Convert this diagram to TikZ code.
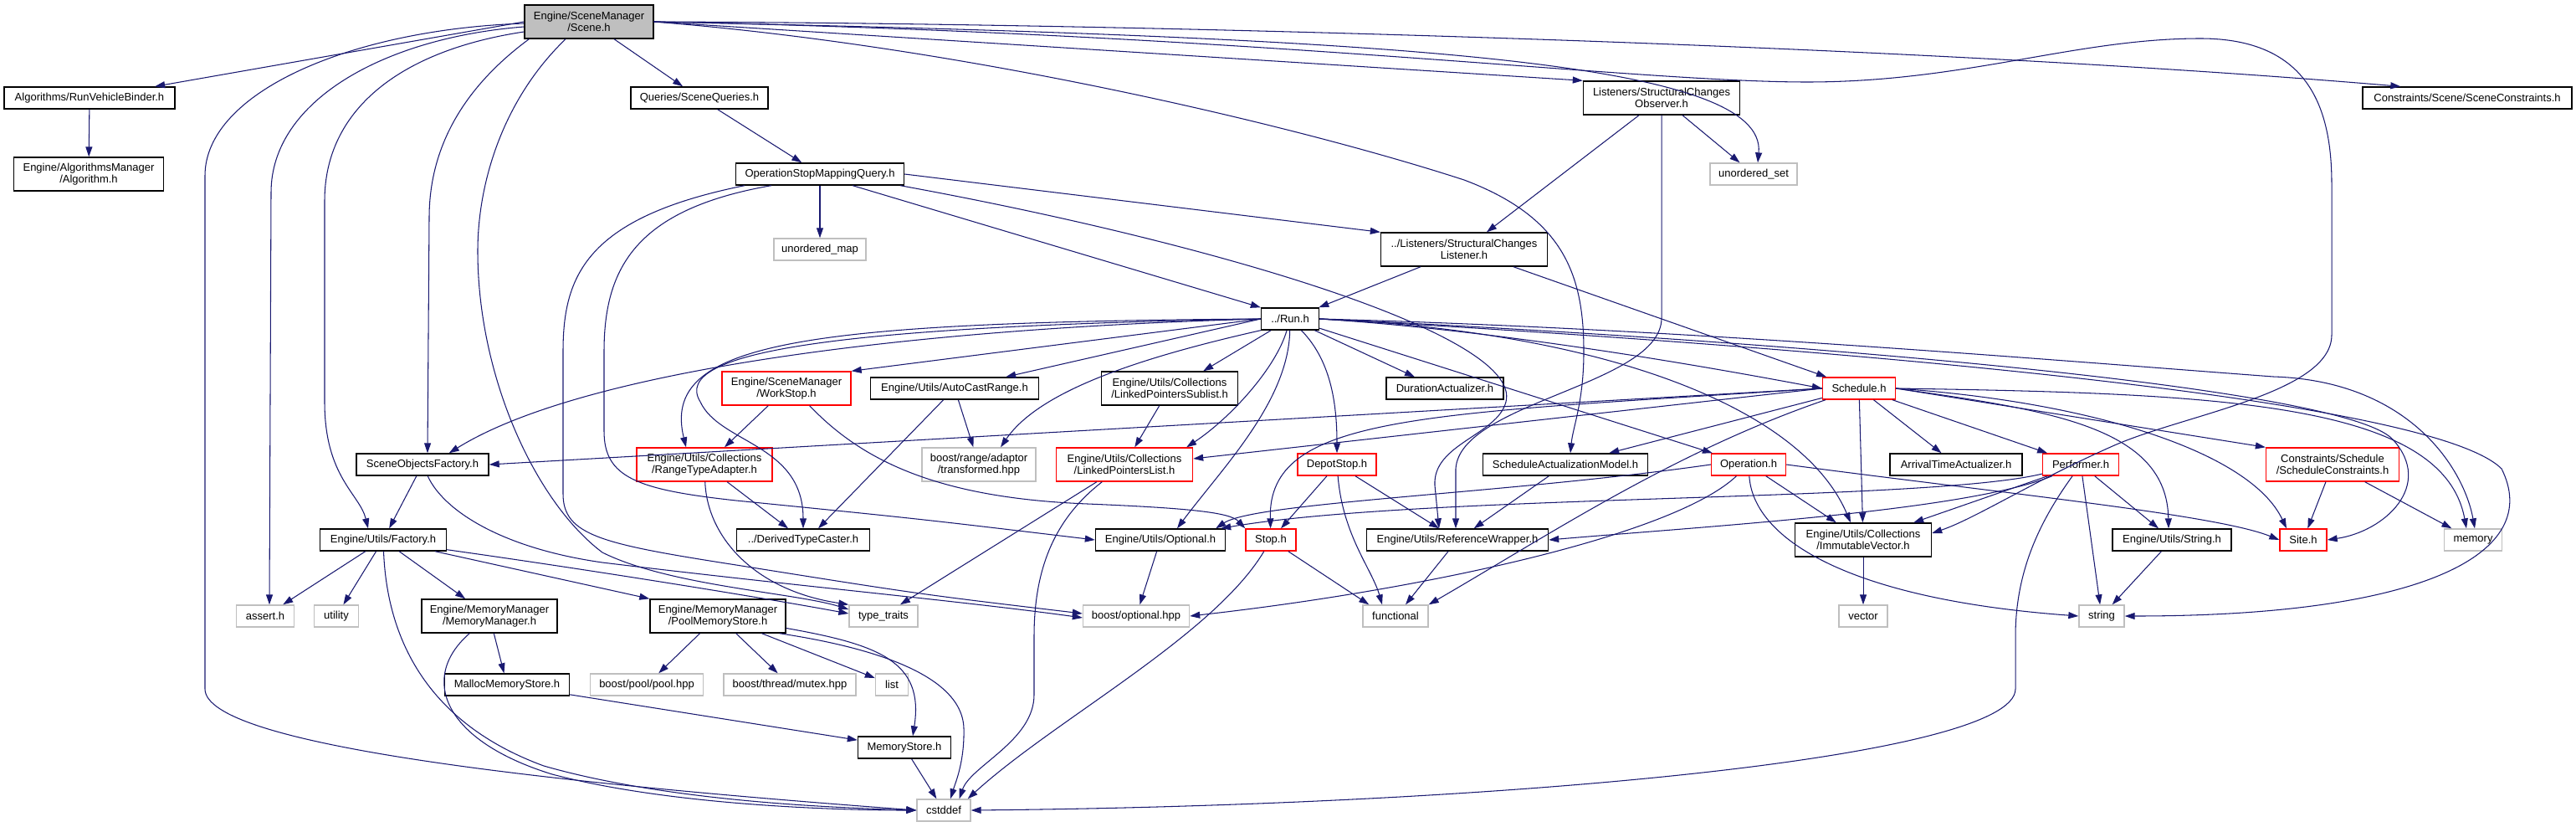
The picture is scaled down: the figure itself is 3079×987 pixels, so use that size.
\documentclass[tikz,border=0pt]{standalone}
\usepackage{fontspec}
\setmainfont{Liberation Sans}
\usetikzlibrary{arrows.meta,calc}
\definecolor{bleuNuit}{RGB}{25,25,112}
\definecolor{grisBord}{RGB}{191,191,191}
\definecolor{grisRacine}{RGB}{191,191,191}

\begin{document}
\begin{tikzpicture}[x=0.02cm,y=-0.02cm,font=\fontsize{7.4}{8}\selectfont,
  f/.style={rectangle,draw=black,fill=white,line width=0.8pt,inner sep=0pt,
            minimum height=0.52cm,align=center},
  f2/.style={f,minimum height=0.8cm},
  sys/.style={f,draw=grisBord},
  trunc/.style={draw=red},
  wd/.style={minimum width=#1cm},
  a/.style={-{Triangle[length=0.24cm,width=0.16cm]},bleuNuit,line width=0.6pt}]
  \useasboundingbox (0,0) rectangle (3079,987);

  % rows of headers
  \node[f2,wd=3.08,fill=grisRacine] (scene) at (704,26) {Engine/SceneManager\\/Scene.h};
  \node[f,wd=4.08] (rvb) at (107,117) {Algorithms/RunVehicleBinder.h};
  \node[f2,wd=3.58] (algorithm) at (106,208) {Engine/AlgorithmsManager\\/Algorithm.h};
  \node[f,wd=3.28] (squeries) at (836,117) {Queries/SceneQueries.h};
  \node[f,wd=4.02] (osmq) at (980,208) {OperationStopMappingQuery.h};
  \node[sys,wd=2.2] (umap) at (980,298) {unordered\_map};
  \node[f2,wd=3.74] (observer) at (1986,117) {Listeners/StructuralChanges\\Observer.h};
  \node[sys,wd=2.08] (uset) at (2096,208) {unordered\_set};
  \node[f,wd=5.0] (sconstr) at (2949,117) {Constraints/Scene/SceneConstraints.h};
  \node[f2,wd=3.98] (listener) at (1750,298) {../Listeners/StructuralChanges\\Listener.h};
  \node[f,wd=1.38] (run) at (1542,381) {../Run.h};

  \node[f2,wd=3.08,trunc] (workstop) at (940,464) {Engine/SceneManager\\/WorkStop.h};
  \node[f,wd=4.02] (autocast) at (1141,464) {Engine/Utils/AutoCastRange.h};
  \node[f2,wd=3.26] (lpsublist) at (1398,464) {Engine/Utils/Collections\\/LinkedPointersSublist.h};
  \node[f,wd=2.8] (duration) at (1727,464) {DurationActualizer.h};
  \node[f,wd=1.74,trunc] (schedule) at (2222,464) {Schedule.h};

  \node[f,wd=3.16] (sofactory) at (505,555) {SceneObjectsFactory.h};
  \node[f2,wd=3.24,trunc] (rta) at (842,555) {Engine/Utils/Collections\\/RangeTypeAdapter.h};
  \node[f2,wd=2.72,draw=grisBord] (transformed) at (1170,555) {boost/range/adaptor\\/transformed.hpp};
  \node[f2,wd=3.26,trunc] (lplist) at (1344,555) {Engine/Utils/Collections\\/LinkedPointersList.h};
  \node[f,wd=1.88,trunc] (depotstop) at (1598,555) {DepotStop.h};
  \node[f,wd=3.94] (samodel) at (1871,555) {ScheduleActualizationModel.h};
  \node[f,wd=1.78,trunc] (operation) at (2090,555) {Operation.h};
  \node[f,wd=3.16] (arrival) at (2338,555) {ArrivalTimeActualizer.h};
  \node[f,wd=1.82,trunc] (performer) at (2487,555) {Performer.h};
  \node[f2,wd=3.18,trunc] (schedconstr) at (2788,555) {Constraints/Schedule\\/ScheduleConstraints.h};

  \node[f,wd=3.02] (factory) at (458,645) {Engine/Utils/Factory.h};
  \node[f,wd=3.18] (dtc) at (960,645) {../DerivedTypeCaster.h};
  \node[f,wd=3.1] (optional) at (1387,645) {Engine/Utils/Optional.h};
  \node[f,wd=1.2,trunc] (stop) at (1519,645) {Stop.h};
  \node[f,wd=4.34] (refwrap) at (1742,645) {Engine/Utils/ReferenceWrapper.h};
  \node[f2,wd=3.26] (immvec) at (2227,645) {Engine/Utils/Collections\\/ImmutableVector.h};
  \node[f,wd=2.84] (stringh) at (2596,645) {Engine/Utils/String.h};
  \node[f,wd=1.12,trunc] (site) at (2753,645) {Site.h};
  \node[sys,wd=1.38] (memory) at (2956,645) {memory};

  \node[sys,wd=1.38] (assert) at (317,736) {assert.h};
  \node[sys,wd=1.06] (utility) at (402,736) {utility};
  \node[f2,wd=3.24] (memmgr) at (585,736) {Engine/MemoryManager\\/MemoryManager.h};
  \node[f2,wd=3.24] (poolmem) at (858,736) {Engine/MemoryManager\\/PoolMemoryStore.h};
  \node[sys,wd=1.64] (typetraits) at (1056,736) {type\_traits};
  \node[sys,wd=2.54] (boostopt) at (1358,736) {boost/optional.hpp};
  \node[sys,wd=1.56] (functional) at (1668,736) {functional};
  \node[sys,wd=1.16] (vector) at (2227,736) {vector};
  \node[sys,wd=1.08] (string) at (2512,736) {string};
  \node[f,wd=2.98] (malloc) at (606,818) {MallocMemoryStore.h};
  \node[sys,wd=2.7] (boostpool) at (773,818) {boost/pool/pool.hpp};
  \node[sys,wd=3.16] (mutex) at (944,818) {boost/thread/mutex.hpp};
  \node[sys,wd=0.78] (list) at (1066,818) {list};
  \node[f,wd=2.22] (memstore) at (1081,893) {MemoryStore.h};
  \node[sys,wd=1.28] (cstddef) at (1128,968) {cstddef};

  % Scene.h
  \draw[a] (scene.west) -- (rvb);
  \draw[a] (scene) -- (squeries);
  \draw[a] (scene.east) -- (observer.north west);
  \draw[a] (scene.east) .. controls (1400,28) and (2300,55) .. ($(sconstr.north west)+(46,0)$);
  \draw[a] (scene.east) .. controls (1700,45) and (2112,75) .. ($(uset.north)+(5,0)$);
  \draw[a] (scene.east) .. controls (1500,40) and (1950,98) .. (2160,98)
     .. controls (2350,98) and (2480,46) .. (2630,46) .. controls (2760,46) and (2787,130) .. (2787,220)
     -- (2787,400) .. controls (2787,470) and (2610,495) .. (2525,533)
     .. controls (2430,575) and (2360,620) .. ($(immvec.east)+(0,-8)$);
  \draw[a] (scene.east) .. controls (1150,55) and (1550,150) .. (1750,215)
     .. controls (1870,260) and (1893,330) .. (1893,420) .. controls (1893,480) and (1880,510) .. ($(samodel.north)+(6,0)$);
  \draw[a] ($(scene.west)+(0,2)$) .. controls (420,35) and (245,110) .. (245,210) -- (245,823)
     .. controls (245,890) and (650,935) .. (cstddef.west);
  \draw[a] ($(scene.west)+(0,6)$) .. controls (460,45) and (324,120) .. (324,230) -- ($(assert.north)+(5,0)$);
  \draw[a] ($(scene.west)+(0,12)$) .. controls (480,60) and (388,130) .. (388,240) -- (388,480)
     .. controls (388,570) and (430,590) .. ($(factory.north)+(-18,0)$);
  \draw[a] ($(scene.south west)+(6,0)$) .. controls (560,100) and (513,170) .. (513,260) -- ($(sofactory.north)+(6,0)$);
  \draw[a] ($(scene.south)+(-28,0)$) .. controls (600,120) and (571,220) .. (571,300)
     .. controls (571,450) and (640,600) .. (720,660) .. controls (800,700) and (950,708) .. ($(typetraits.west)+(0,-8)$);

  \draw[a] (rvb) -- (algorithm);
  \draw[a] (squeries) -- (osmq);

  % OperationStopMappingQuery.h
  \draw[a] (osmq) -- (umap);
  \draw[a] (osmq.east) -- (listener.north west);
  \draw[a] ($(osmq.south east)+(-62,0)$) -- (run.north west);
  \draw[a] ($(osmq.south east)+(-5,0)$) .. controls (1450,290) and (1820,400) .. (1800,480)
     .. controls (1790,520) and (1712,530) .. (1715,580) -- ($(refwrap.north)+(-22,0)$);
  \draw[a] ($(osmq.south west)+(43,0)$) .. controls (760,250) and (722,320) .. (722,420) -- (722,515)
     .. controls (722,570) and (760,585) .. (880,598) .. controls (1100,620) .. (optional.west);
  \draw[a] ($(osmq.south west)+(11,0)$) .. controls (700,260) and (673,330) .. (673,420) -- (673,590)
     .. controls (673,640) and (720,650) .. (880,675) .. controls (1100,710) .. ($(boostopt.west)+(0,-3)$);

  % listeners
  \draw[a] (observer) -- (listener);
  \draw[a] (observer) -- (uset);
  \draw[a] (observer) -- (1986,380) .. controls (1986,460) and (1745,480) .. (1740,560) -- ($(refwrap.north)+(-2,0)$);
  \draw[a] (listener) -- (run);
  \draw[a] (listener) -- (schedule);

  % ../Run.h
  \draw[a] (run.west) -- (workstop.north east);
  \draw[a] (run.west) -- ($(autocast.north east)+(-40,0)$);
  \draw[a] (run) -- ($(lpsublist.north east)+(-42,0)$);
  \draw[a] (run) -- ($(duration.north)+(-36,0)$);
  \draw[a] (run.south west) .. controls (1350,430) and (1240,470) .. ($(transformed.north)+(26,0)$);
  \draw[a] (run) .. controls (1525,440) and (1470,500) .. ($(lplist.north east)+(-8,0)$);
  \draw[a] (run) .. controls (1540,480) and (1460,560) .. ($(optional.north)+(20,0)$);
  \draw[a] (run) .. controls (1590,430) and (1598,480) .. (depotstop);
  \draw[a] (run.east) .. controls (1800,395) and (2050,440) .. (schedule.west);
  \draw[a] (run) -- (operation);
  \draw[a] (run.east) .. controls (1900,395) and (2150,480) .. ($(immvec.north)+(-15,0)$);
  \draw[a] (run.east) .. controls (2000,392) and (2450,430) .. (2717,450)
     .. controls (2880,455) and (2945,560) .. ($(memory.north)+(2,0)$);
  \draw[a] (run.east) .. controls (2100,410) and (2900,470) .. (2990,560)
     .. controls (3040,660) and (2900,736) .. (string.east);
  \draw[a] (run.east) .. controls (2100,405) and (2800,460) .. (2860,525)
     .. controls (2910,580) and (2850,635) .. (site.east);
  \draw[a] (run.west) .. controls (1100,392) and (700,440) .. ($(sofactory.north east)+(-48,0)$);
  \draw[a] (run.west) .. controls (950,385) and (790,410) .. ($(rta.north)+(-22,0)$);
  \draw[a] (run.west) .. controls (1000,390) and (800,420) .. (837,480) .. controls (860,530) and (960,530) .. (dtc.north);

  % Schedule.h
  \draw[a] (schedule) -- (arrival);
  \draw[a] (schedule) -- (performer);
  \draw[a] (schedule.east) -- (schedconstr.north west);
  \draw[a] (schedule.east) .. controls (2450,490) and (2590,510) .. ($(stringh.north)+(-4,0)$);
  \draw[a] (schedule.east) .. controls (2500,480) and (2690,540) .. ($(site.north)+(-20,0)$);
  \draw[a] (schedule.east) .. controls (2650,470) and (2920,480) .. ($(memory.north)+(-8,0)$);
  \draw[a] (schedule) -- (immvec);
  \draw[a] (schedule) -- ($(samodel.north east)+(-47,0)$);
  \draw[a] (schedule.west) .. controls (1700,495) and (1515,495) .. (stop);
  \draw[a] (schedule.west) -- ($(lplist.east)+(0,-7)$);
  \draw[a] (schedule.west) -- (sofactory.east);
  \draw[a] (schedule) .. controls (2000,540) and (1850,640) .. (functional.north east);

  % Operation.h, Performer.h
  \draw[a] (operation.west) .. controls (1800,590) and (1500,600) .. ($(optional.north east)+(-12,0)$);
  \draw[a] (operation) -- ($(immvec.north west)+(50,0)$);
  \draw[a] (operation.east) .. controls (2400,590) and (2650,615) .. (site.west);
  \draw[a] (operation) .. controls (2095,640) and (2200,715) .. (string.west);
  \draw[a] (operation) .. controls (2000,640) and (1700,705) .. (boostopt.east);
  \draw[a] (performer) -- ($(stringh.north)+(-16,0)$);
  \draw[a] (performer) -- (string);
  \draw[a] (performer) -- ($(immvec.north east)+(-22,0)$);
  \draw[a] (performer) .. controls (2350,610) and (2050,628) .. (refwrap.east);
  \draw[a] (performer) .. controls (2300,600) and (1700,590) .. ($(optional.north east)+(-6,0)$);
  \draw[a] (performer) .. controls (2440,620) and (2409,680) .. (2409,760) -- (2409,823)
     .. controls (2409,905) and (1800,962) .. (cstddef.east);

  \draw[a] (schedconstr) -- (site);
  \draw[a] (schedconstr) -- (memory);
  \draw[a] (stringh) -- (string);
  \draw[a] (immvec) -- (vector);
  \draw[a] (samodel) -- (refwrap);

  \draw[a] (depotstop) -- (stop);
  \draw[a] (depotstop) -- (refwrap);
  \draw[a] (depotstop) .. controls (1605,640) and (1640,680) .. ($(functional.north)+(-16,0)$);
  \draw[a] (stop) -- ($(functional.north west)+(8,0)$);
  \draw[a] (stop) .. controls (1450,760) and (1260,860) .. ($(cstddef.north east)+(-4,0)$);
  \draw[a] (refwrap) -- ($(functional.north)+(12,0)$);
  \draw[a] (optional) -- (boostopt);

  \draw[a] (lplist) -- ($(typetraits.north)+(20,0)$);
  \draw[a] (lplist) .. controls (1260,620) and (1236,680) .. (1236,760) -- (1236,830)
     .. controls (1236,885) and (1160,915) .. ($(cstddef.north east)+(-14,0)$);
  \draw[a] (lpsublist) -- (lplist);
  \draw[a] (autocast) -- (transformed);
  \draw[a] (autocast) -- ($(dtc.north)+(18,0)$);
  \draw[a] (workstop) -- ($(rta.north)+(24,0)$);
  \draw[a] ($(workstop.south east)+(-50,0)$) .. controls (1030,550) and (1120,595) .. (1300,602)
     .. controls (1420,607) and (1470,612) .. (stop.north west);
  \draw[a] (rta) -- (dtc);
  \draw[a] (rta) .. controls (845,640) and (900,705) .. (typetraits.north west);

  % factories and memory
  \draw[a] (sofactory) -- (factory);
  \draw[a] (sofactory) .. controls (530,610) and (600,655) .. (720,672)
     .. controls (950,700) and (1150,718) .. ($(boostopt.west)+(0,2)$);
  \draw[a] (factory) -- (assert);
  \draw[a] (factory) -- (utility);
  \draw[a] (factory) .. controls (462,750) and (500,860) .. (650,915)
     .. controls (800,958) and (1000,965) .. (cstddef.west);
  \draw[a] (factory) -- (memmgr);
  \draw[a] (factory) -- (poolmem.north west);
  \draw[a] ($(factory.south east)+(0,-2)$) .. controls (700,680) and (900,712) .. ($(typetraits.west)+(0,-3)$);
  \draw[a] (memmgr) -- (malloc);
  \draw[a] (memmgr) .. controls (500,810) and (530,885) .. (660,925)
     .. controls (800,962) and (1000,968) .. (cstddef.west);
  \draw[a] (malloc) -- (memstore);
  \draw[a] (poolmem) -- (boostpool);
  \draw[a] (poolmem) -- (mutex);
  \draw[a] (poolmem) -- (list);
  \draw[a] (poolmem) .. controls (1050,770) and (1105,790) .. ($(memstore.north)+(10,0)$);
  \draw[a] ($(poolmem.south east)+(-8,0)$) .. controls (1020,770) and (1150,800) .. (1152,870)
     .. controls (1153,910) and (1142,935) .. ($(cstddef.north)+(8,0)$);
  \draw[a] (memstore) -- (cstddef);
\end{tikzpicture}
\end{document}
